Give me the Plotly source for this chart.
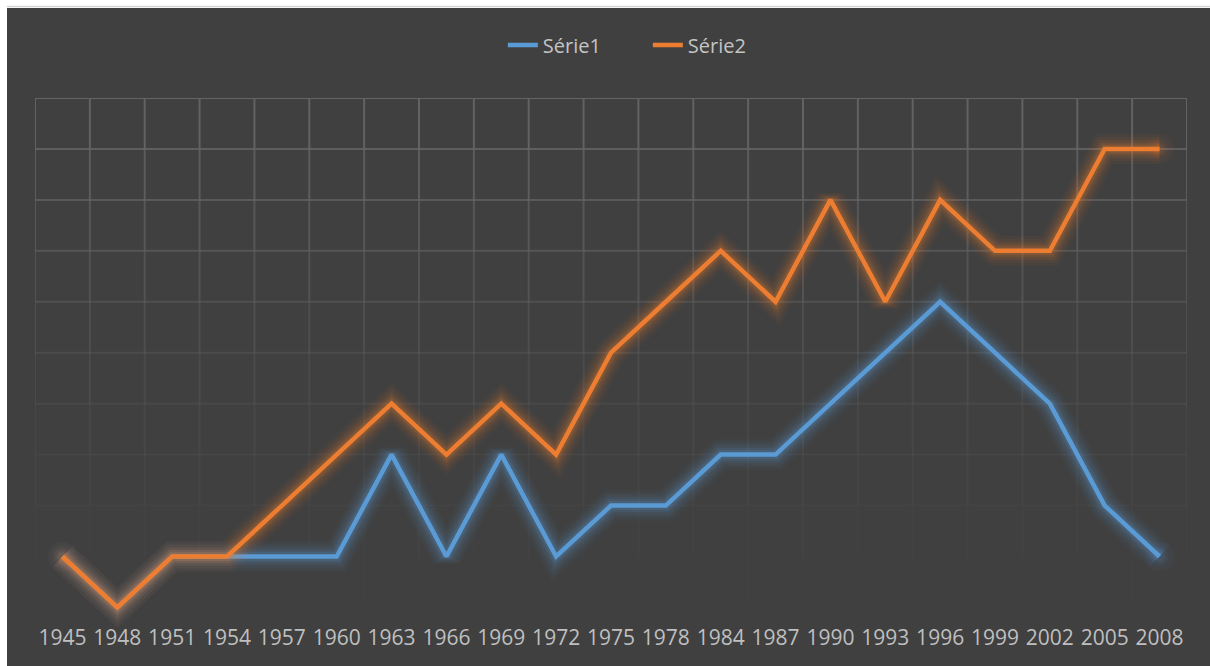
import plotly.graph_objects as go

years = ["1945", "1948", "1951", "1954", "1957", "1960", "1963", "1966", "1969", "1972",
         "1975", "1978", "1984", "1987", "1990", "1993", "1996", "1999", "2002", "2005", "2008"]
serie1 = [1, 0, 1, 1, 1, 1, 3, 1, 3, 1, 2, 2, 3, 3, 4, 5, 6, 5, 4, 2, 1]
serie2 = [1, 0, 1, 1, 2, 3, 4, 3, 4, 3, 5, 6, 7, 6, 8, 6, 8, 7, 7, 9, 9]
series_names = ["Série1", "Série2"]
series_colors = [(91, 155, 213), (237, 125, 49)]

YMAX = 10
YMIN_VIEW = -0.6   # a little room below zero so the glow is not clipped
BG = "#404040"

# layout geometry (pixels)
W, H = 1210, 666
L, R, T = 35, 23, 98
unit_px = 509 / YMAX
plot_h = unit_px * (YMAX - YMIN_VIEW)
B = H - T - plot_h
plot_w = W - L - R

fig = go.Figure()

glow_layers = [(30, 0.05), (24, 0.06), (18, 0.085), (13, 0.11), (9, 0.15)]

for name, vals, (r, g, b) in zip(series_names, [serie1, serie2], series_colors):
    for w, a in glow_layers:
        fig.add_trace(go.Scatter(x=years, y=vals, mode="lines", showlegend=False,
                                 hoverinfo="skip",
                                 line=dict(color=f"rgba({r},{g},{b},{a})", width=w)))
        fig.add_trace(go.Scatter(x=[years[0], years[-1]], y=[vals[0], vals[-1]],
                                 mode="markers", showlegend=False, hoverinfo="skip",
                                 marker=dict(size=w, color=f"rgba({r},{g},{b},{a*0.6})",
                                             line=dict(width=0))))
    fig.add_trace(go.Scatter(x=years, y=vals, mode="lines", name=name,
                             line=dict(color=f"rgb({r},{g},{b})", width=4.5)))

def px_x(p):
    return (p - L) / plot_w
def px_y(p):
    return (H - B - p) / plot_h

shapes = []
shapes.append(dict(type="rect", xref="paper", yref="paper", layer="below",
                   x0=px_x(7), x1=px_x(1215), y0=px_y(670), y1=px_y(8),
                   fillcolor=BG, line=dict(width=0)))
shapes.append(dict(type="line", xref="paper", yref="paper", layer="below",
                   x0=px_x(7), x1=px_x(1215), y0=px_y(6.5), y1=px_y(6.5),
                   line=dict(color="#d4d4d4", width=1.5)))

n = len(years)
def grid_alpha(v):
    return 0.03 + 0.97 * (v / YMAX) ** 1.6

gc = (100, 100, 100)
for k in range(0, YMAX + 1):
    a = grid_alpha(k)
    shapes.append(dict(type="line", xref="x", yref="y", layer="below",
                       x0=-0.5, x1=n - 0.5, y0=k, y1=k,
                       line=dict(color=f"rgba({gc[0]},{gc[1]},{gc[2]},{a:.3f})", width=2)))
for i in range(n + 1):
    for k in range(0, YMAX):
        a = grid_alpha(k + 0.5)
        shapes.append(dict(type="line", xref="x", yref="y", layer="below",
                           x0=i - 0.5, x1=i - 0.5, y0=k, y1=k + 1,
                           line=dict(color=f"rgba({gc[0]},{gc[1]},{gc[2]},{a:.3f})", width=2)))

fig.update_layout(
    width=W, height=H,
    margin=dict(l=L, r=R, t=T, b=B),
    paper_bgcolor="white",
    plot_bgcolor=BG,
    shapes=shapes,
    font=dict(family="Open Sans", color="#bfbfbf"),
    legend=dict(orientation="h", x=0.532, y=px_y(45), xanchor="center", yanchor="middle",
                font=dict(size=20, color="#c4c4c4"), bgcolor="rgba(0,0,0,0)",
                entrywidth=100, entrywidthmode="pixels"),
    xaxis=dict(type="category", range=[-0.5, n - 0.5], showgrid=False, zeroline=False,
               showline=False, ticks="", tickfont=dict(size=21, color="#bfbfbf"),
               ticklabelstandoff=-15),
    yaxis=dict(range=[YMIN_VIEW, YMAX], showgrid=False, zeroline=False, showticklabels=False,
               showline=False, ticks=""),
    showlegend=True,
)

fig.write_html("out.html")
